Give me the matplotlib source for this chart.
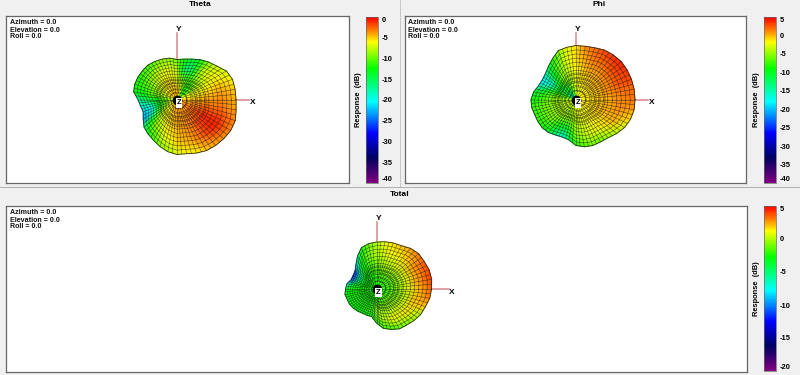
import numpy as np
import matplotlib
matplotlib.use('Agg')
import matplotlib.pyplot as plt
from matplotlib.colors import LinearSegmentedColormap
from matplotlib.patches import Polygon, Rectangle

plt.rcParams['font.family'] = ['Liberation Sans', 'DejaVu Sans']
plt.rcParams['font.weight'] = 'bold'

# azimuth of each table row (deg, counter clockwise from +X)
azimuth = np.arange(0, 360, 10)
# rows are azimuths, columns are rings from the middle to the rim
ring_frac = [0.0, 0.25, 0.5, 0.75, 1.0]

theta_radius = [59, 59, 59, 57, 52, 49, 46, 43, 41, 40, 42, 43, 44, 45, 45, 45, 45, 44,
                39, 37, 36, 39, 43, 45, 47, 50, 53, 55, 55, 57, 59, 60, 61, 62, 62, 60]
phi_radius = [59, 59, 59, 59, 59, 58, 57, 55, 54, 54, 53, 52, 47, 43, 40, 39, 40, 43,
              45, 45, 44, 44, 44, 43, 41, 40, 41, 46, 48, 49, 49, 50, 53, 56, 58, 59]
total_radius = [55, 56, 56, 55, 55, 53, 50, 49, 48, 47, 46, 44, 38, 32, 28, 27, 27, 30,
                31, 32, 31, 31, 30, 29, 28, 28, 28, 34, 40, 43, 46, 47, 49, 51, 52, 54]

theta_db = [
    [-5, -5, -4, -3.5, -4.5], [-5.5, -6, -5, -4, -5], [-6, -6.5, -6, -5, -6],
    [-7, -8, -7, -6, -7], [-9, -11, -8, -6.5, -7.5], [-10, -13, -10, -8, -9],
    [-8, -11, -11, -14, -13], [-6, -8, -10, -17, -14], [-5, -6, -9, -14, -12],
    [-4, -5, -7, -8, -10], [-4, -5, -6, -7, -9], [-4, -5, -6, -7, -9],
    [-4, -5, -6, -7, -10], [-4, -5.5, -6.5, -8, -11], [-4, -6, -7, -9, -11],
    [-4, -6, -8, -10, -12], [-5, -7, -9, -11, -12], [-5, -8, -10, -12, -13],
    [-6, -9, -12, -15, -17], [-6, -9, -13, -18, -19], [-6, -8, -12, -20, -22],
    [-5, -7, -11, -19, -23], [-5, -6.5, -9, -12, -16], [-4.5, -6, -7, -9, -12],
    [-4.5, -5.5, -6.5, -8, -11], [-4, -5, -5.5, -6.5, -9], [-4, -4.5, -5, -6, -8],
    [-4, -4, -4.5, -5, -7], [-4, -4, -4, -4.5, -6], [-4, -4, -3.5, -4, -6],
    [-4, -3.5, -3, -3, -5], [-4, -3.5, -2, -2, -4.5], [-4, -3, -1.5, -1, -4],
    [-4, -3, -1, -1, -3.5], [-4, -3.5, -2, -2, -3.5], [-4.5, -4, -3, -3, -4],
]
phi_db = [
    [-2, -1, 0, 1, 1.5], [-2, -1, 0.5, 1.5, 2], [-2, -1, 0.5, 2.5, 3],
    [-2, -1, 0.5, 2.5, 3.5], [-2, -1, 0.5, 2.5, 4], [-2, -1, 0, 2, 3.5],
    [-2, -1.5, 0, 1.5, 3], [-2.5, -2, -0.5, 1, 2], [-3, -2, -1, 0, 1],
    [-4, -3, -2, -1, -1], [-6, -4, -3, -2, -2.5], [-10, -6, -4, -4, -5],
    [-16, -8, -5, -6, -8], [-22, -10, -7, -9, -11], [-24, -12, -9, -14, -15],
    [-20, -11, -10, -17, -18], [-12, -8, -8, -12, -16], [-7, -6, -6, -8, -10],
    [-5, -4.5, -5, -7, -9], [-4, -4, -5, -6, -8], [-3.5, -3.5, -4.5, -6, -8],
    [-3, -3.5, -4.5, -6, -8], [-3, -3.5, -4.5, -6, -9], [-3, -4, -5, -8, -11],
    [-3, -4, -5, -10, -14], [-3, -4, -5, -11, -17], [-3, -3.5, -4.5, -8, -12],
    [-3, -3, -4, -5, -8], [-2.5, -2.5, -3, -4, -7], [-2.5, -2, -2.5, -3, -6],
    [-2, -2, -2, -2.5, -6], [-2, -2, -1.5, -2, -5], [-2, -1.5, -1, -1, -4],
    [-2, -1.5, -0.5, 0, -3], [-2, -1, 0, 0.5, -1], [-2, -1, 0, 1, 0.5],
]
total_db = [
    [-2.5, -1.5, 0.5, 2, 3.5], [-2.5, -1.5, 0.5, 2.5, 4], [-2.5, -1.5, 0.5, 2.5, 4],
    [-2.5, -1.5, 0.5, 2.5, 3.5], [-2.5, -1.5, 0.5, 2, 3], [-2.5, -1.5, 0.5, 1.5, 2.5],
    [-2.5, -1.5, 0, 1, 2], [-2.5, -2, 0, 1, 1.5], [-2.5, -2, -0.5, 0.5, 1],
    [-2.5, -2, -1, 0, 0], [-2.5, -2.5, -1.5, -0.5, -1], [-2.5, -2.5, -2, -1.5, -2.5],
    [-2.5, -2.5, -2.5, -3, -5], [-2.5, -2.5, -3, -4.5, -8], [-2.5, -2.5, -3, -6, -11],
    [-2.5, -2.5, -3, -6, -12], [-2.5, -2.5, -3, -5, -11], [-2.5, -2.5, -2.5, -3.5, -7],
    [-2.5, -2.5, -2.5, -2.5, -3.5], [-2.5, -2.5, -2.5, -2.5, -3], [-2.5, -2.5, -2.5, -2.5, -3],
    [-2.5, -2.5, -2.5, -2.5, -3], [-2.5, -2.5, -2.5, -2.5, -3], [-2.5, -2.5, -2.5, -2.5, -3],
    [-2.5, -2.5, -2.5, -2.5, -3], [-2.5, -2.5, -2.5, -2, -3], [-2.5, -2.5, -2, -1.5, -3],
    [-2.5, -2, -1, -0.5, -2.5], [-2.5, -2, -0.5, 0, -2], [-2.5, -2, -0.5, 0.5, -2],
    [-2.5, -1.5, 0, 1, -1.5], [-2.5, -1.5, 0, 1, -1], [-2.5, -1.5, 0, 1.5, -0.5],
    [-2.5, -1.5, 0, 1.5, 0], [-2.5, -1.5, 0, 2, 2], [-2.5, -1.5, 0, 2, 3],
]

theta_ticks = [0, -5, -10, -15, -20, -25, -30, -35, -40]
phi_ticks = [5, 0, -5, -10, -15, -20, -25, -30, -35, -40]
total_ticks = [5, 0, -5, -10, -15, -20]
info_text = 'Azimuth = 0.0\nElevation = 0.0\nRoll = 0.0'

W, H = 800, 375
BG = '#f0f0f0'
cmap = LinearSegmentedColormap.from_list('resp', [
    (0.0, '#800080'), (0.15, '#000060'), (0.30, '#0000ff'), (0.49, '#00ffff'),
    (0.69, '#00ff00'), (0.85, '#ffff00'), (0.92, '#ff8000'), (1.0, '#ff0000')])

fig = plt.figure(figsize=(W / 100, H / 100), dpi=100, facecolor=BG)


def px_axes(left, top, right, bottom):
    return fig.add_axes([left / W, 1 - bottom / H, (right - left) / W, (bottom - top) / H])


def panel(box, origin, bar, title, title_xy, radius, db, vmin, vmax, ticks):
    left, top, right, bottom = box
    ox, oy = origin
    ax = px_axes(left, top, right, bottom)
    # one data unit is one pixel, origin at the pattern centre
    ax.set_xlim(left - ox, right - ox)
    ax.set_ylim(oy - bottom, oy - top)
    ax.set_xticks([])
    ax.set_yticks([])
    for s in ax.spines.values():
        s.set_color('#666666')
        s.set_linewidth(0.9)

    # axis stubs
    ax.plot([0, 72], [0, 0], color='#d9868c', lw=1.1, zorder=1)
    ax.plot([0, 0], [0, 67], color='#d9868c', lw=1.1, zorder=1)
    ax.text(75.5, -3.5, 'X', fontsize=6, ha='center', va='center', zorder=6)
    ax.text(2, 70, 'Y', fontsize=6, ha='center', va='center', zorder=6)

    # surface
    a = np.deg2rad(np.append(azimuth, 360))
    r = np.append(radius, radius[0])
    v = np.vstack([db, db[:1]])
    fr = np.array(ring_frac)
    X = np.outer(r * np.cos(a), fr)
    Y = np.outer(r * np.sin(a), fr)
    mesh = ax.pcolormesh(X, Y, v, shading='gouraud', cmap=cmap, vmin=vmin, vmax=vmax, zorder=2)

    # wireframe, spokes clipped to the outline; every other one stops short of the
    # middle so the centre does not go solid black
    rim = np.column_stack([r * np.cos(a), r * np.sin(a)])
    clip = Polygon(rim, closed=True, transform=ax.transData, fill=False, edgecolor='none')
    ax.add_patch(clip)
    for deg in range(0, 360, 5):
        start = 4 if deg % 20 == 0 else (9 if deg % 10 == 0 else 16)
        c, s = np.cos(np.deg2rad(deg)), np.sin(np.deg2rad(deg))
        ln, = ax.plot([start * c, 80 * c], [start * s, 80 * s],
                      color='#101010', lw=0.4, alpha=0.7, zorder=3)
        ln.set_clip_path(clip)
    for f in np.linspace(0.16, 0.92, 11):
        ax.plot(rim[:, 0] * f, rim[:, 1] * f, color='#101010', lw=0.4, alpha=0.7, zorder=3)
    # heavier rings around the middle
    for f in [0.17, 0.26, 0.34, 0.41, 0.49]:
        ax.plot(rim[:, 0] * f, rim[:, 1] * f, color='#101010', lw=0.7, alpha=0.4, zorder=3)
    ax.plot(rim[:, 0], rim[:, 1], color='#2a2a2a', lw=0.6, zorder=4)
    ax.plot([0], [0], 'o', color='black', ms=6, zorder=4)
    ax.text(2, -3.5, 'Z', fontsize=5.5, ha='center', va='center', zorder=6,
            bbox=dict(facecolor='white', edgecolor='none', pad=0.8))

    ax.text(3.5 / (right - left), 1 - 3.5 / (bottom - top), info_text, transform=ax.transAxes,
            fontsize=5.1, va='top', ha='left', linespacing=1.0, color='#111111')

    # colour bar
    cax = px_axes(*bar)
    cb = fig.colorbar(mesh, cax=cax)
    cb.set_ticks(ticks)
    cb.set_ticklabels([str(t) for t in ticks])
    cb.outline.set_edgecolor('#666666')
    cb.outline.set_linewidth(0.5)
    cax.tick_params(length=0, pad=3, labelsize=5.4)
    labels = cax.get_yticklabels()
    labels[0].set_va('top')
    labels[-1].set_va('bottom')
    cax.yaxis.set_label_position('left')
    cax.set_ylabel('Response  (dB)', fontsize=5.4, fontweight='bold', labelpad=3)

    fig.text(title_xy[0] / W, 1 - title_xy[1] / H, title, fontsize=6, ha='center', va='center')


panel((6, 16, 349, 183), (177, 99.5), (366, 17, 378, 183), 'Theta', (200, 5),
      theta_radius, theta_db, -40, 0, theta_ticks)
panel((405, 16, 746, 183), (576, 99.5), (764, 17, 776, 183), 'Phi', (599, 5),
      phi_radius, phi_db, -40, 5, phi_ticks)
panel((6, 206, 747, 372), (376.5, 289), (764, 206, 776, 371), 'Total', (399.5, 194),
      total_radius, total_db, -20, 5, total_ticks)

# panel separators
fig.add_artist(Rectangle((0, 1 - 188 / H), 1, 1.5 / H, transform=fig.transFigure, color='#b0b0b0', lw=0))
fig.add_artist(Rectangle((400 / W, 1 - 187 / H), 1.5 / W, 187 / H, transform=fig.transFigure, color='#c8c8c8', lw=0))

fig.savefig('out.png', dpi=100, facecolor=BG)
